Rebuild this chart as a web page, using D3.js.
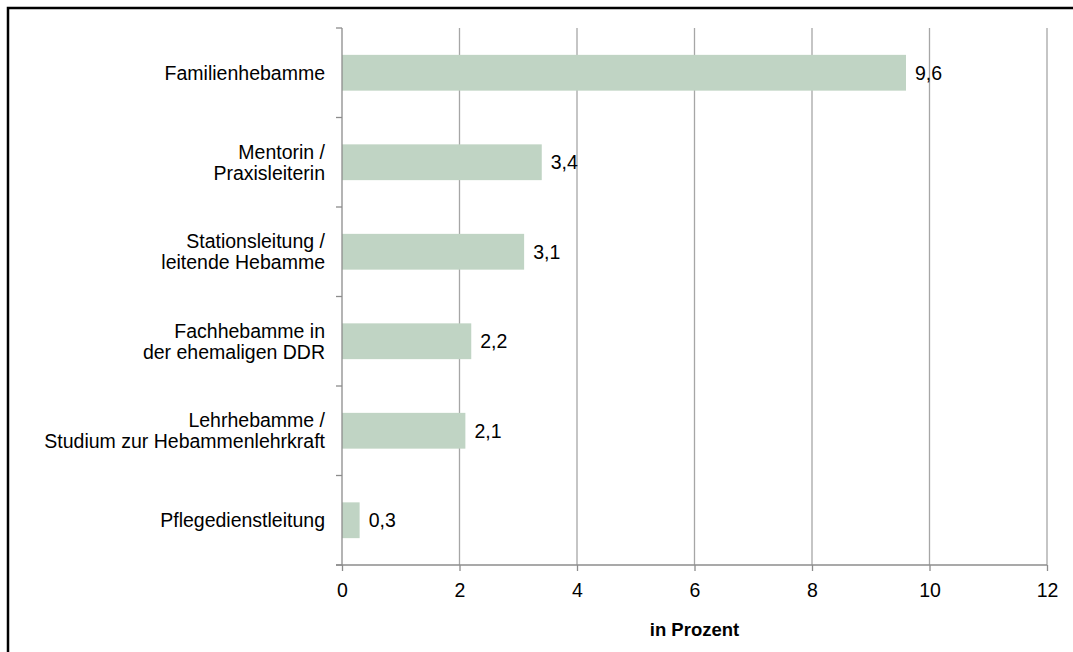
<!DOCTYPE html>
<html>
<head>
<meta charset="utf-8">
<script src="https://cdn.jsdelivr.net/npm/d3@7"></script>
<style>
  body { margin: 0; background: #fff; }
  svg { display: block; font-family: "Liberation Sans", Arial, sans-serif; }
</style>
</head>
<body>
<svg id="chart" width="1073" height="652"></svg>
<script>
// data
var categories = [
  ["Familienhebamme"],
  ["Mentorin /", "Praxisleiterin"],
  ["Stationsleitung /", "leitende Hebamme"],
  ["Fachhebamme in", "der ehemaligen DDR"],
  ["Lehrhebamme /", "Studium zur Hebammenlehrkraft"],
  ["Pflegedienstleitung"]
];
var values = [9.6, 3.4, 3.1, 2.2, 2.1, 0.3];
var xTicks = [0, 2, 4, 6, 8, 10, 12];
var axisTitle = "in Prozent";

var width = 1073, height = 652;
var margin = { top: 28, right: 26, bottom: 87, left: 342 };
var fontSize = 19.5;

var svg = d3.select("#chart");

// outer frame (cut off at right and bottom in the original)
svg.append("rect")
  .attr("x", 8).attr("y", 8)
  .attr("width", width + 20).attr("height", height + 20)
  .attr("fill", "none")
  .attr("stroke", "#000")
  .attr("stroke-width", 2.5);

var x = d3.scaleLinear()
  .domain([0, 12])
  .range([margin.left, width - margin.right]);

var y = d3.scaleBand()
  .domain(d3.range(categories.length))
  .range([margin.top, height - margin.bottom])
  .paddingInner(0.6)
  .paddingOuter(0.3);

var step = y.step();
var plotTop = margin.top, plotBottom = height - margin.bottom;

// vertical gridlines
svg.append("g")
  .selectAll("line")
  .data(xTicks.slice(1))
  .enter().append("line")
  .attr("x1", function (d) { return x(d); })
  .attr("x2", function (d) { return x(d); })
  .attr("y1", plotTop)
  .attr("y2", plotBottom)
  .attr("stroke", "#a6a6a6")
  .attr("stroke-width", 1.3);

// bars
svg.append("g")
  .selectAll("rect")
  .data(values)
  .enter().append("rect")
  .attr("x", x(0))
  .attr("y", function (d, i) { return y(i); })
  .attr("width", function (d) { return x(d) - x(0); })
  .attr("height", y.bandwidth())
  .attr("fill", "#c0d4c4");

// value labels
svg.append("g")
  .selectAll("text")
  .data(values)
  .enter().append("text")
  .attr("x", function (d) { return x(d) + 9; })
  .attr("y", function (d, i) { return y(i) + y.bandwidth() / 2; })
  .attr("dy", "0.35em")
  .attr("font-size", fontSize)
  .attr("fill", "#000")
  .text(function (d) { return String(d).replace(".", ","); });

// y axis: line and tick marks on category boundaries
var axisColor = "#8c8c8c";
svg.append("line")
  .attr("x1", x(0)).attr("x2", x(0))
  .attr("y1", plotTop).attr("y2", plotBottom)
  .attr("stroke", axisColor).attr("stroke-width", 1.3);

svg.append("g")
  .selectAll("line")
  .data(d3.range(categories.length + 1))
  .enter().append("line")
  .attr("x1", x(0) - 6).attr("x2", x(0))
  .attr("y1", function (d) { return plotTop + d * step; })
  .attr("y2", function (d) { return plotTop + d * step; })
  .attr("stroke", axisColor).attr("stroke-width", 1.3);

// category labels
var lineH = 21;
svg.append("g")
  .selectAll("text")
  .data(categories)
  .enter().append("text")
  .attr("text-anchor", "end")
  .attr("font-size", fontSize)
  .attr("fill", "#000")
  .attr("transform", function (d, i) {
    var cy = y(i) + y.bandwidth() / 2 - (d.length - 1) * lineH / 2;
    return "translate(" + (x(0) - 17) + "," + cy + ")";
  })
  .each(function (d) {
    var t = d3.select(this);
    d.forEach(function (line, j) {
      t.append("tspan")
        .attr("x", 0)
        .attr("y", j * lineH)
        .attr("dy", "0.35em")
        .text(line);
    });
  });

// x axis
var xAxis = d3.axisBottom(x)
  .tickValues(xTicks)
  .tickSize(6)
  .tickPadding(12)
  .tickFormat(function (d) { return String(d); });

var gx = svg.append("g")
  .attr("transform", "translate(0," + plotBottom + ")")
  .call(xAxis);
gx.select(".domain")
  .attr("d", "M" + (x(0) - 6) + ",0H" + x(12))
  .attr("stroke", axisColor).attr("stroke-width", 1.3);
gx.selectAll(".tick line").attr("stroke", axisColor).attr("stroke-width", 1.3);
gx.selectAll(".tick text")
  .attr("font-size", fontSize)
  .attr("font-family", "Liberation Sans, Arial, sans-serif")
  .attr("fill", "#000");

// axis title
svg.append("text")
  .attr("x", (x(0) + x(12)) / 2)
  .attr("y", 630)
  .attr("dy", "0.35em")
  .attr("text-anchor", "middle")
  .attr("font-size", 18.5)
  .attr("font-weight", "bold")
  .attr("fill", "#000")
  .text(axisTitle);
</script>
</body>
</html>
